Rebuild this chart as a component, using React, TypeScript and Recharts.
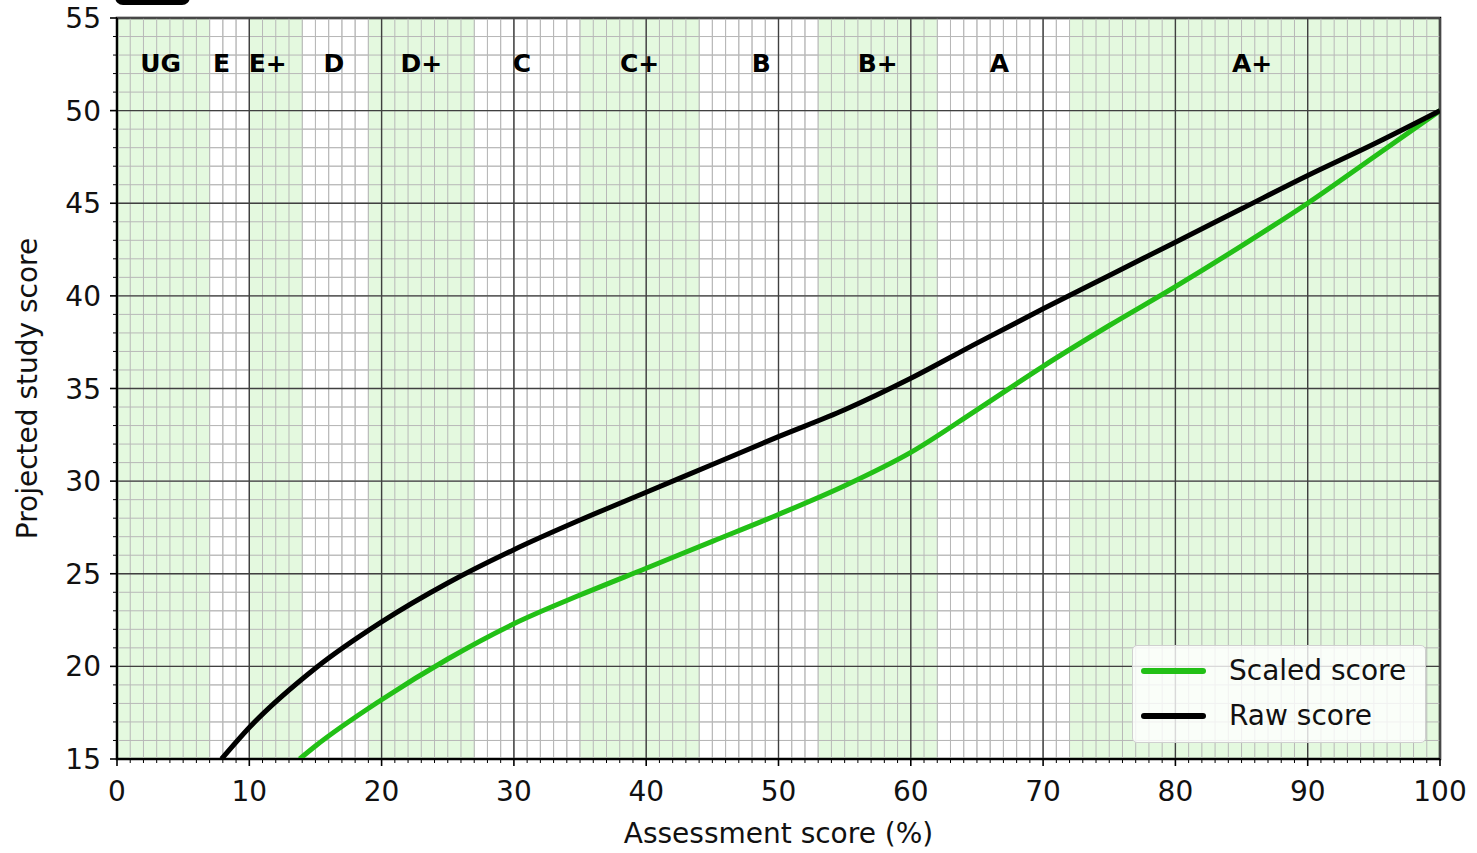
import {
    LineChart,
    Line,
    XAxis,
    YAxis,
    CartesianGrid,
    ReferenceArea,
    ReferenceLine,
    ReferenceDot,
    Legend,
} from 'recharts';

// grade bands (assessment score %)
const grades = ['UG', 'E', 'E+', 'D', 'D+', 'C', 'C+', 'B', 'B+', 'A', 'A+'];
const gradeStart = [0, 7, 10, 14, 19, 27, 35, 44, 53, 62, 72];
const gradeEnd = [7, 10, 14, 19, 27, 35, 44, 53, 62, 72, 100];
const gradeShaded = [true, false, true, false, true, false, true, false, true, false, true];
const gradeLabelX = [3.3, 7.9, 11.4, 16.4, 23, 30.6, 39.5, 48.7, 57.5, 66.7, 85.8];

// scaled score curve
const scaledX = [13.8, 15, 20, 25, 30, 35, 40, 45, 50, 55, 60, 65, 70, 75, 80, 85, 90, 95, 100];
const scaledY = [15, 15.7, 18.2, 20.4, 22.3, 23.85, 25.3, 26.75, 28.2, 29.75, 31.55, 33.85, 36.2, 38.4, 40.5, 42.7, 45.0, 47.5, 50];

// raw score curve
const rawX = [7.9, 10, 15, 20, 25, 30, 35, 40, 45, 50, 55, 60, 65, 70, 75, 80, 85, 90, 95, 100];
const rawY = [15, 16.7, 19.9, 22.4, 24.5, 26.3, 27.9, 29.4, 30.9, 32.4, 33.85, 35.55, 37.45, 39.3, 41.1, 42.9, 44.7, 46.5, 48.2, 50];

const legendOrder = ['Scaled score', 'Raw score'];

const majorX = [0, 10, 20, 30, 40, 50, 60, 70, 80, 90, 100];
const majorY = [15, 20, 25, 30, 35, 40, 45, 50, 55];
const minorX = Array.from({ length: 101 }, (_, i) => i);
const minorY = Array.from({ length: 41 }, (_, i) => 15 + i);

const scaledData = scaledX.map((x, i) => ({ x, y: scaledY[i] }));
const rawData = rawX.map((x, i) => ({ x, y: rawY[i] }));

const FONT = '"DejaVu Sans", sans-serif';
const BAND = '#e4f9df';
const GREEN = '#22c016';

const XTick = ({ x, y, payload }: any) => {
    const v = payload.value;
    const major = v % 10 === 0;
    return (
        <g>
            <line x1={x} x2={x} y1={y} y2={y + (major ? 7 : 4)} stroke="#000" strokeWidth={major ? 1.6 : 1} />
            {major && (
                <text x={x} y={y + 42} textAnchor="middle" fontSize={28} fontFamily={FONT} fill="#111">
                    {v}
                </text>
            )}
        </g>
    );
};

const YTick = ({ x, y, payload }: any) => {
    const v = payload.value;
    const major = v % 5 === 0;
    return (
        <g>
            <line x1={x} x2={x - (major ? 7 : 4)} y1={y} y2={y} stroke="#000" strokeWidth={major ? 1.6 : 1} />
            {major && (
                <text x={x - 16} y={y + 10} textAnchor="end" fontSize={28} fontFamily={FONT} fill="#111">
                    {v}
                </text>
            )}
        </g>
    );
};

const YLabel = ({ viewBox }: any) => {
    const cx = viewBox.x + 37;
    const cy = viewBox.y + viewBox.height / 2;
    return (
        <text x={cx} y={cy} transform={`rotate(-90 ${cx} ${cy})`} textAnchor="middle" fontSize={28} fontFamily={FONT} fill="#111">
            Projected study score
        </text>
    );
};

const LegendBox = ({ payload }: any) => {
    const items = [...(payload || [])].sort(
        (a: any, b: any) => legendOrder.indexOf(a.value) - legendOrder.indexOf(b.value)
    );
    return (
        <div
            style={{
                border: '1px solid #d0d0d0',
                borderRadius: 5,
                background: 'rgba(255,255,255,0.8)',
                padding: '2px 10px 4px 8px',
                fontFamily: FONT,
                fontSize: 28,
                color: '#111',
            }}
        >
            {items.map((p: any) => (
                <div key={p.value} style={{ display: 'flex', alignItems: 'center', height: 45 }}>
                    <div style={{ width: 65, height: 6, borderRadius: 3, background: p.color, marginRight: 23 }} />
                    <span>{p.value}</span>
                </div>
            ))}
        </div>
    );
};

export default function App() {
    return (
        <div style={{ position: 'absolute', left: 0, top: 0, width: 1477, height: 853, background: '#fff', overflow: 'hidden' }}>
            <div
                style={{
                    position: 'absolute',
                    left: 117,
                    width: 1323,
                    top: -36,
                    textAlign: 'center',
                    fontFamily: FONT,
                    fontSize: 34,
                    color: '#444',
                    lineHeight: '40px',
                }}
            >
                Written Examination
            </div>
            <div style={{ position: 'absolute', left: 115, top: -20, width: 75, height: 25, borderRadius: 8, background: '#000' }} />
            <LineChart width={1477} height={853} margin={{ top: 18, right: 37, bottom: 0, left: 0 }} style={{ position: 'absolute', left: 0, top: 0 }}>
                <CartesianGrid stroke="#bdbdbd" strokeWidth={1} />
                {grades.map((g, i) => (
                    <ReferenceArea
                        key={g}
                        x1={gradeStart[i]}
                        x2={gradeEnd[i]}
                        y1={15}
                        y2={55}
                        fill={gradeShaded[i] ? BAND : 'none'}
                        fillOpacity={1}
                        stroke="none"
                    />
                ))}
                {minorX.map((v) => (
                    <ReferenceLine key={'mx' + v} x={v} stroke="#b8b8b8" strokeWidth={1} />
                ))}
                {minorY.map((v) => (
                    <ReferenceLine key={'my' + v} y={v} stroke="#b8b8b8" strokeWidth={1} />
                ))}
                {majorX.map((v) => (
                    <ReferenceLine key={'MX' + v} x={v} stroke="#404040" strokeWidth={1.4} />
                ))}
                {majorY.map((v) => (
                    <ReferenceLine key={'MY' + v} y={v} stroke="#404040" strokeWidth={1.4} />
                ))}
                {grades.map((g, i) => (
                    <ReferenceDot
                        key={'lbl' + g}
                        x={gradeLabelX[i]}
                        y={52.57}
                        r={0}
                        fill="none"
                        stroke="none"
                        label={{ value: g, position: 'center', fontSize: 25, fontWeight: 'bold', fontFamily: FONT, fill: '#000' }}
                    />
                ))}
                <XAxis
                    dataKey="x"
                    type="number"
                    domain={[0, 100]}
                    ticks={minorX}
                    interval={0}
                    tickSize={0}
                    tickMargin={0}
                    tick={<XTick />}
                    height={94}
                    axisLine={{ stroke: '#000', strokeWidth: 2 }}
                    allowDataOverflow
                    label={{ value: 'Assessment score (%)', position: 'insideBottom', offset: 10, fontSize: 28, fontFamily: FONT, fill: '#111' }}
                />
                <YAxis
                    type="number"
                    domain={[15, 55]}
                    ticks={minorY}
                    interval={0}
                    tickSize={0}
                    tickMargin={0}
                    tick={<YTick />}
                    width={117}
                    axisLine={{ stroke: '#000', strokeWidth: 2 }}
                    allowDataOverflow
                    label={<YLabel />}
                />
                <Line data={scaledData} dataKey="y" name="Scaled score" type="monotone" stroke={GREEN} strokeWidth={5} dot={false} isAnimationActive={false} />
                <Line data={rawData} dataKey="y" name="Raw score" type="monotone" stroke="#000" strokeWidth={5} dot={false} isAnimationActive={false} />
                <ReferenceArea x1={0} x2={100} y1={15} y2={55} fill="none" stroke="#000" strokeWidth={2.5} />
                <Legend
                    layout="vertical"
                    align="center"
                    verticalAlign="middle"
                    content={<LegendBox />}
                    wrapperStyle={{ left: 1132, top: 645, width: 294 }}
                />
            </LineChart>
        </div>
    );
}
